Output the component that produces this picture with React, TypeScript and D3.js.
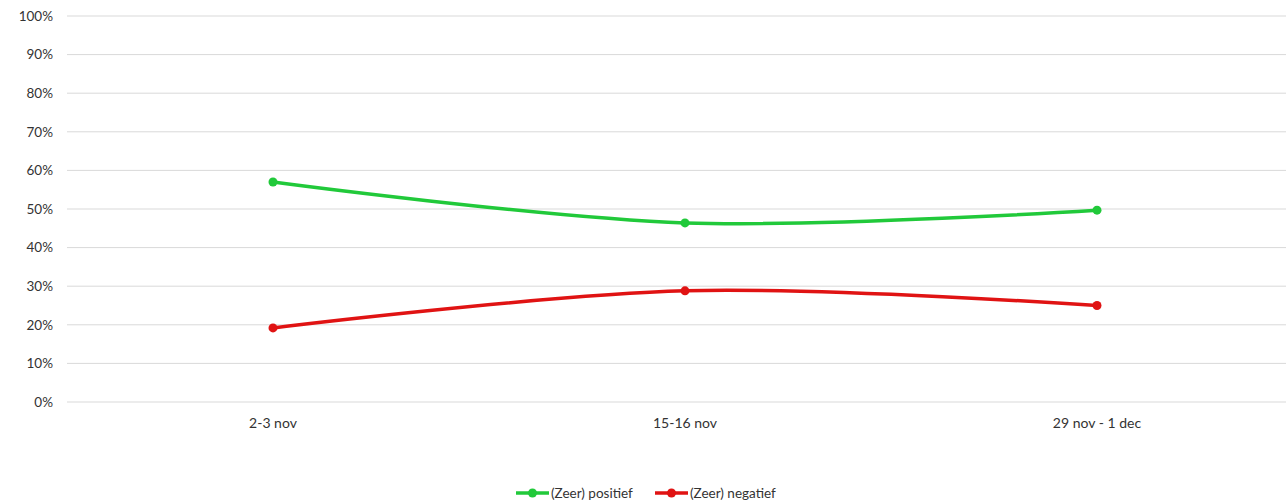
import React from "react";
import * as d3 from "d3";

const categories = ["2-3 nov", "15-16 nov", "29 nov - 1 dec"];
const positief = [57.0, 46.4, 49.7];
const negatief = [19.2, 28.8, 25.0];
const yTicks = [0, 10, 20, 30, 40, 50, 60, 70, 80, 90, 100];
const seriesNames = ["(Zeer) positief", "(Zeer) negatief"];
const seriesColors = ["#21c93a", "#e01313"];

const W = 1286;
const H = 504;
const left = 67;
const right = 1303;
const top = 16;
const bottom = 402;
const font = "Lato, 'Open Sans', sans-serif";

export default function App() {
  const x = d3.scaleBand<string>().domain(categories).range([left, right]);
  const y = d3.scaleLinear().domain([0, 100]).range([bottom, top]);
  const line = d3
    .line<number>()
    .x((_, i) => (x(categories[i]) as number) + x.bandwidth() / 2)
    .y((d) => y(d))
    .curve(d3.curveCatmullRom.alpha(0.5));
  const series = [positief, negatief];
  return (
    <svg
      width={W}
      height={H}
      style={{ position: "absolute", left: 0, top: 0, background: "#fff" }}
    >
      {yTicks.map((t) => (
        <g key={t}>
          <line x1={left} x2={W} y1={y(t)} y2={y(t)} stroke="#d9d9d9" strokeWidth={1} />
          <text
            x={53}
            y={y(t)}
            dy="0.35em"
            textAnchor="end"
            fontFamily={font}
            fontSize={13.5}
            fill="#333"
          >
            {t}%
          </text>
        </g>
      ))}
      {categories.map((c) => (
        <text
          key={c}
          x={(x(c) as number) + x.bandwidth() / 2}
          y={423}
          dy="0.35em"
          textAnchor="middle"
          fontFamily={font}
          fontSize={14}
          fill="#333"
        >
          {c}
        </text>
      ))}
      {series.map((s, si) => (
        <g key={si}>
          <path d={line(s) || ""} fill="none" stroke={seriesColors[si]} strokeWidth={3.5} />
          {s.map((v, i) => (
            <circle
              key={i}
              cx={(x(categories[i]) as number) + x.bandwidth() / 2}
              cy={y(v)}
              r={4.5}
              fill={seriesColors[si]}
            />
          ))}
        </g>
      ))}
      {seriesNames.map((n, i) => {
        const lx = i === 0 ? 516 : 655;
        return (
          <g key={n}>
            <line x1={lx} x2={lx + 33} y1={493} y2={493} stroke={seriesColors[i]} strokeWidth={3.5} />
            <circle cx={lx + 16.5} cy={493} r={4.5} fill={seriesColors[i]} />
            <text
              x={lx + 35}
              y={493}
              dy="0.35em"
              fontFamily={font}
              fontSize={13.5}
              fill="#333"
            >
              {n}
            </text>
          </g>
        );
      })}
    </svg>
  );
}
